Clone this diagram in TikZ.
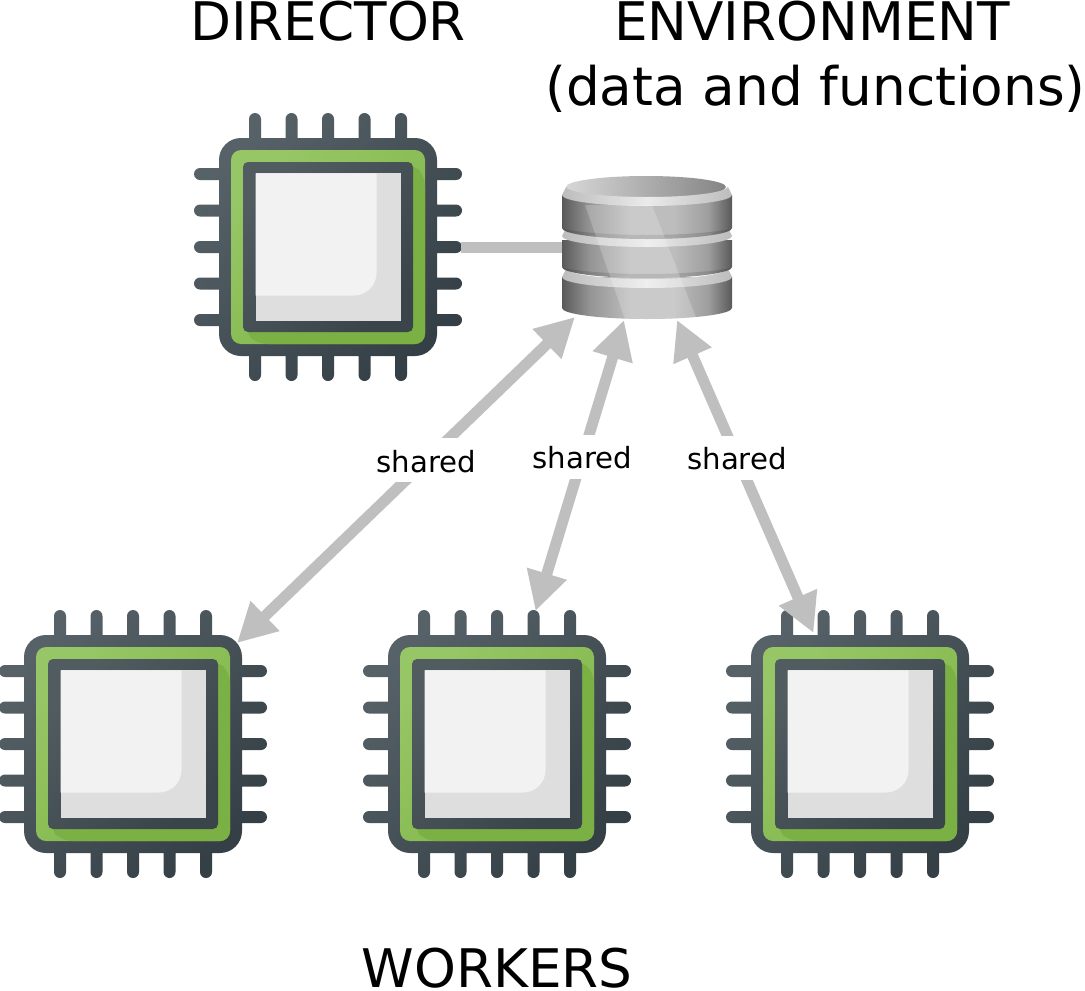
\documentclass[tikz,border=0pt]{standalone}
\usepackage{fontspec}
\setmainfont{DejaVu Sans}
\usetikzlibrary{arrows.meta}
\definecolor{linkgray}{HTML}{BFBFBF}
\definecolor{chipdarkA}{HTML}{566267}
\definecolor{chipdarkB}{HTML}{353F46}
\definecolor{chipmidA}{HTML}{515C61}
\definecolor{chipmidB}{HTML}{3A454B}
\definecolor{greenA}{HTML}{96C665}
\definecolor{greenB}{HTML}{80B548}
\definecolor{greendark}{HTML}{7BB044}
\pgfdeclarehorizontalshading{dbside}{100bp}{
  rgb(0bp)=(.35,.35,.35); rgb(25bp)=(.35,.35,.35); rgb(33bp)=(.58,.58,.58);
  rgb(45bp)=(.74,.74,.74); rgb(58bp)=(.74,.74,.74); rgb(68bp)=(.62,.62,.62);
  rgb(75bp)=(.35,.35,.35); rgb(100bp)=(.35,.35,.35)}
\pgfdeclarehorizontalshading{dbrim}{100bp}{
  rgb(0bp)=(.74,.74,.74); rgb(25bp)=(.74,.74,.74); rgb(50bp)=(.92,.92,.92);
  rgb(75bp)=(.74,.74,.74); rgb(100bp)=(.74,.74,.74)}
\pgfdeclarehorizontalshading{dbtop}{100bp}{
  rgb(0bp)=(.84,.84,.84); rgb(25bp)=(.84,.84,.84); rgb(75bp)=(.52,.52,.52); rgb(100bp)=(.52,.52,.52)}
\tikzset{
  x=1pt,y=-1pt,
  holder/.style={inner sep=0pt,outer sep=0pt,minimum width=#1,minimum height=#1},
  link/.style={draw=linkgray,line width=11pt},
  biarrow/.style={link,{Triangle[length=39pt,width=39pt,fill=linkgray]}-{Triangle[length=39pt,width=39pt,fill=linkgray]}},
  heading/.style={font=\fontsize{53.2}{60}\selectfont,anchor=base,inner sep=0pt},
  sharedlabel/.style={font=\fontsize{29.2}{32}\selectfont,fill=white,inner xsep=2pt,inner ysep=0pt,minimum height=44pt,text height=25pt,text depth=1pt},
  chip/.pic={
    \shade[top color=chipdarkA,bottom color=chipdarkB,shading angle=45,rounded corners=6pt]
      \foreach \p in {-73,-36.5,0,36.5,73}{
        (\p-6,-134) rectangle (\p+6,134)
        (-134,\p-6) rectangle (134,\p+6)
      }
      [rounded corners=22pt] (-109,-109) rectangle (109,109);
    \shade[top color=greenA,bottom color=greenB,shading angle=45,rounded corners=10pt]
      (-97,-97) rectangle (97,97);
    \fill[greendark,rounded corners=10pt]
      (84,-84) -- (97,-71) -- (97,97) -- (-71,97) -- (-84,84) -- cycle;
    \shade[top color=chipmidA,bottom color=chipmidB,shading angle=45,rounded corners=5pt]
      (-85,-85) rectangle (85,85);
    \fill[black!13] (-72.5,-73.7) rectangle (72.5,73.7);
    \fill[black!5] (-72.5,-73.7) -- (48.5,-73.7) -- (48.5,26) .. controls (48.5,39) and (38,48.5) .. (26,48.5) -- (-72.5,48.5) -- cycle;
  }
}
\newcommand{\bandpath}[2]{(562,#1) -- (562,#2) .. controls (562,#2+6) and (600,#2+11) .. (647,#2+11) .. controls (694,#2+11) and (732,#2+6) .. (732,#2) -- (732,#1) -- cycle}
\newcommand{\rimpath}[1]{(566,#1-8) -- (562,#1) .. controls (562,#1+6) and (600,#1+11) .. (647,#1+11) .. controls (694,#1+11) and (732,#1+6) .. (732,#1) -- (728,#1-8) .. controls (726,#1-3) and (694,#1+2) .. (647,#1+2) .. controls (600,#1+2) and (568,#1-3) .. (566,#1-8) -- cycle}
\newcommand{\shadepath}[1]{(562,#1) .. controls (562,#1+6) and (600,#1+11) .. (647,#1+11) .. controls (694,#1+11) and (732,#1+6) .. (732,#1) .. controls (732,#1+2) and (694,#1+7) .. (647,#1+7) .. controls (600,#1+7) and (562,#1+2) .. (562,#1) -- cycle}
\begin{document}
\begin{tikzpicture}
\path[use as bounding box,fill=white] (0,0) rectangle (1085,991);
% invisible holders that connectors refer to
\node[holder=266pt] (director) at (328,247) {};
\node[holder=266pt] (worker1) at (133,744) {};
\node[holder=266pt] (worker2) at (497,744) {};
\node[holder=266pt] (worker3) at (860,744) {};
\node[inner sep=0pt,outer sep=0pt,minimum width=171pt,minimum height=146pt] (db) at (647,247) {};
\coordinate (tipdbA) at (575,317);
\coordinate (tipdbB) at (624,320);
\coordinate (tipdbC) at (677,320);
\coordinate (tipwA) at (237,643);
\coordinate (tipwB) at (535.5,611);
\coordinate (tipwC) at (813.5,633);
% chips
\pic at (director.center) {chip};
\pic at (worker1.center) {chip};
\pic at (worker2.center) {chip};
\pic at (worker3.center) {chip};
% database
\shade[shading=dbside] \bandpath{277}{308};
\shade[shading=dbrim] \rimpath{277};
\shade[shading=dbside] \bandpath{240}{267};
\fill[black,opacity=.12] \shadepath{267};
\shade[shading=dbrim] \rimpath{236};
\shade[shading=dbside] \bandpath{195}{228};
\fill[black,opacity=.12] \shadepath{228};
\shade[shading=dbtop] (646,187) ellipse[x radius=80,y radius=11];
\shade[shading=dbrim] \rimpath{195};
\begin{scope}
  \clip (562,187) -- (562,308) .. controls (562,314) and (600,319) .. (647,319) .. controls (694,319) and (732,314) .. (732,308) -- (732,187) -- cycle;
  \fill[white,opacity=.2] (585,205) -- (627,325) -- (699,325) -- (652,205) -- cycle;
\end{scope}
% connectors
\draw[link] (director.east) -- (db.west);
\draw[biarrow] (tipdbA) -- (tipwA) node[sharedlabel,pos=.44] (labA) {shared};
\draw[biarrow] (tipdbB) -- (tipwB) node[sharedlabel,pos=.47] (labB) {shared};
\draw[biarrow] (tipdbC) -- (tipwC) node[sharedlabel,pos=.44] (labC) {shared};
% headings
\node[heading] (t1) at (328,40) {DIRECTOR};
\node[heading] (t2) at (812,40) {ENVIRONMENT};
\node[heading] (t3) at (815.5,105) {(data and functions)};
\node[heading] (t4) at (497,987) {WORKERS};
\end{tikzpicture}
\end{document}
